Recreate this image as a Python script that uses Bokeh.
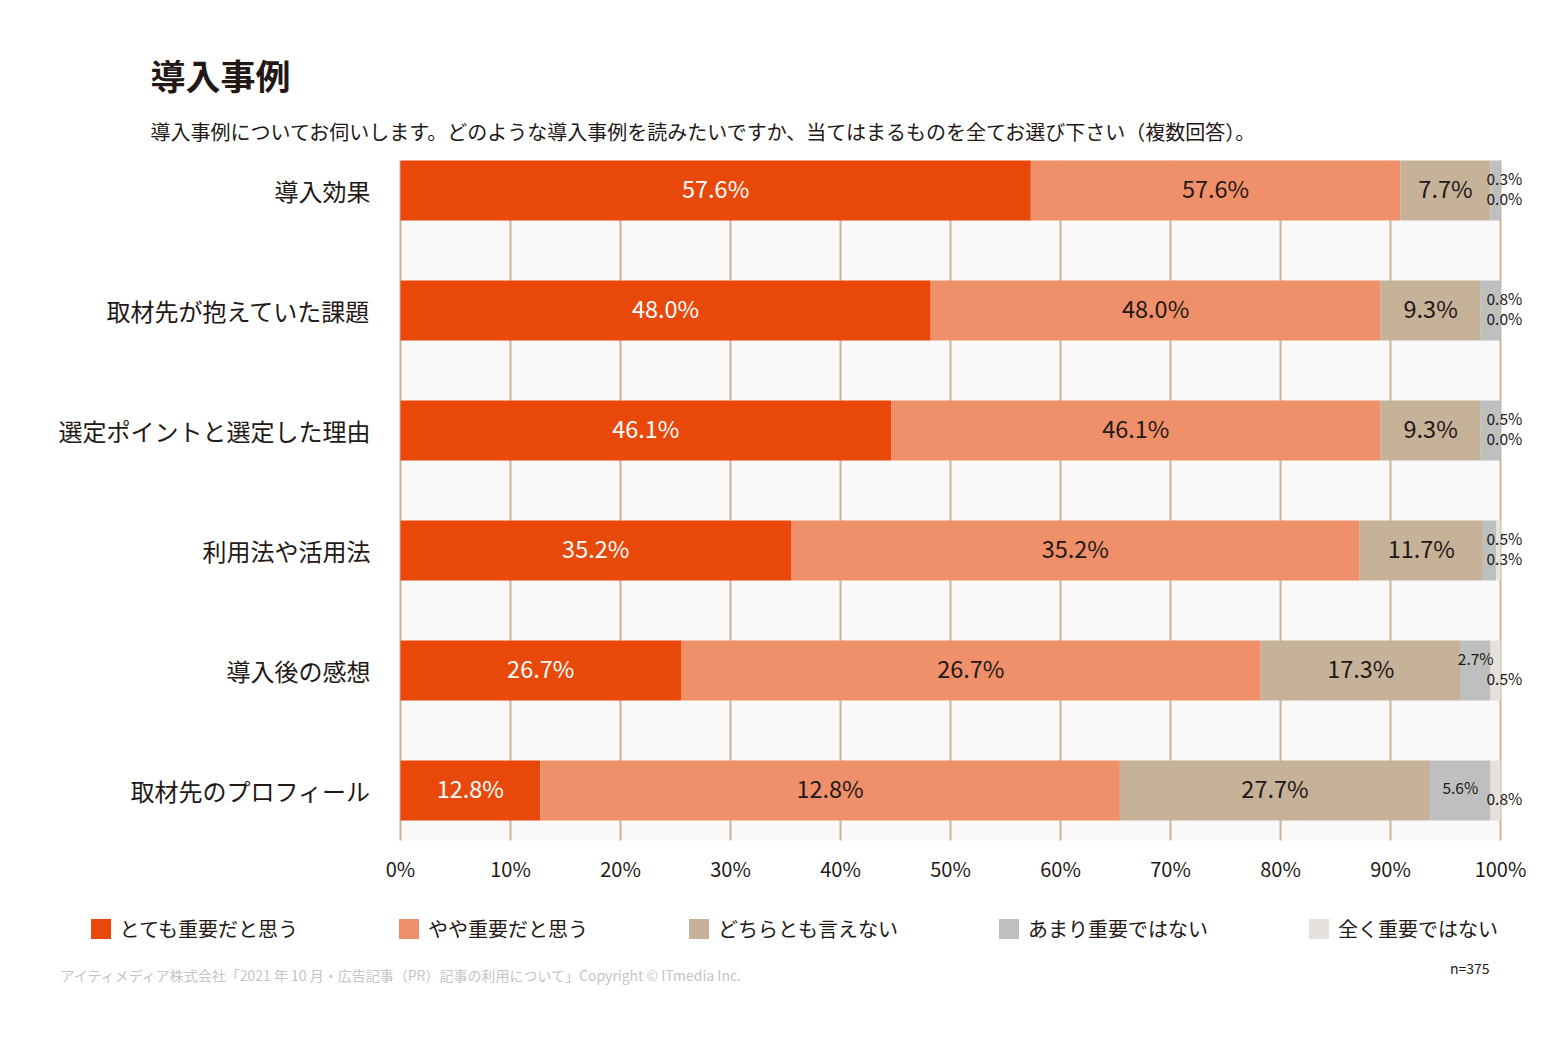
import numpy as np
from bokeh.plotting import figure
from bokeh.models import (Range1d, Label, LabelSet, ColumnDataSource,
                          Legend, LegendItem)
from bokeh.core.properties import value
from bokeh.embed import file_html
from bokeh.resources import INLINE

# ---------------- data ----------------
title_text = "導入事例"
subtitle_text = "導入事例についてお伺いします。どのような導入事例を読みたいですか、当てはまるものを全てお選び下さい（複数回答）。"
footer_text = "アイティメディア株式会社「2021 年 10 月・広告記事（PR）記事の利用について」Copyright © ITmedia Inc."
n_text = "n=375"

categories = ["導入効果", "取材先が抱えていた課題", "選定ポイントと選定した理由",
              "利用法や活用法", "導入後の感想", "取材先のプロフィール"]
series_names = ["とても重要だと思う", "やや重要だと思う", "どちらとも言えない",
                "あまり重要ではない", "全く重要ではない"]

# drawn segment widths (share of the bar, %)
very_important = [57.3, 48.2, 44.6, 35.5, 25.5, 12.7]
somewhat_important = [33.6, 40.9, 44.5, 51.7, 52.7, 52.7]
neutral = [8.2, 9.1, 9.1, 11.2, 18.2, 28.2]
not_very_important = [0.9, 1.8, 1.8, 1.2, 2.7, 5.5]
not_important = [0.0, 0.0, 0.0, 0.4, 0.9, 0.9]

# printed labels (%), as shown on the chart
very_label = [57.6, 48.0, 46.1, 35.2, 26.7, 12.8]
somewhat_label = [57.6, 48.0, 46.1, 35.2, 26.7, 12.8]
neutral_label = [7.7, 9.3, 9.3, 11.7, 17.3, 27.7]
not_very_label = [0.3, 0.8, 0.5, 0.5, 2.7, 5.6]
not_important_label = [0.0, 0.0, 0.0, 0.3, 0.5, 0.8]

x_ticks = [0, 10, 20, 30, 40, 50, 60, 70, 80, 90, 100]

# ---------------- style / layout ----------------
FONT = "Noto Sans CJK JP"
DARK = "#231815"
colors = ["#E8490B", "#F0906A", "#C6B199", "#BEC0C0", "#E5E1DC"]
label_colors = ["#FFFFFF", DARK, DARK]

W, H = 1550, 1030
PLOT_L, PLOT_T, PLOT_W, PLOT_H = 400, 160, 1100, 680   # plotting area in px
Y_TOP, Y_BOT = -0.25, 5 + 50 / 120                     # row units
PX_X = PLOT_W / 100.0
PX_Y = PLOT_H / (Y_BOT - Y_TOP)


def dx(px):  # canvas px -> data x
    return (px - PLOT_L) / PX_X


def dy(py):  # canvas px -> data y (rows grow downward)
    return (py - PLOT_T) / PX_Y + Y_TOP


p = figure(width=W, height=H, output_backend="svg", toolbar_location=None,
           x_range=Range1d(dx(0), dx(W)), y_range=Range1d(dy(H), dy(0)),
           x_axis_location=None, y_axis_location=None, min_border=0,
           title=None)
p.grid.visible = False
p.outline_line_color = None
p.background_fill_color = "white"
p.border_fill_color = "white"

rows = np.arange(len(categories))
data = np.array([very_important, somewhat_important, neutral,
                 not_very_important, not_important])
rights = np.cumsum(data, axis=0)
lefts = rights - data

# plot background and vertical grid
p.quad(left=[0], right=[100], top=[Y_TOP], bottom=[Y_BOT],
       fill_color="#F9F9F9", line_color=None)
p.segment(x0=x_ticks, x1=x_ticks, y0=[Y_TOP] * len(x_ticks),
          y1=[Y_BOT] * len(x_ticks), line_color="#C8B49B", line_width=2)

renderers = []
for i in range(len(series_names)):
    src = ColumnDataSource(dict(y=rows, left=lefts[i], right=rights[i]))
    r = p.hbar(y="y", left="left", right="right", height=0.5, source=src,
               fill_color=colors[i], line_color=None)
    renderers.append(r)

# x tick labels
p.add_layout(LabelSet(
    x="x", y="y", text="t",
    source=ColumnDataSource(dict(x=x_ticks, y=[dy(868)] * len(x_ticks),
                                 t=[f"{t}%" for t in x_ticks])),
    text_align="center", text_baseline="middle", text_font=value(FONT),
    text_font_size=value("20px"), text_color=DARK))

# category labels
p.add_layout(LabelSet(
    x="x", y="y", text="t",
    source=ColumnDataSource(dict(x=[dx(370)] * len(rows), y=rows,
                                 t=categories)),
    text_align="right", text_baseline="middle", text_font=value(FONT),
    text_font_size=value("24px"), text_color=DARK))

# main segment labels
main_labels = [very_label, somewhat_label, neutral_label]
for i in range(3):
    src = ColumnDataSource(dict(
        x=(lefts[i] + rights[i]) / 2, y=rows - 3 / PX_Y,
        t=[f"{v:.1f}%" for v in main_labels[i]]))
    p.add_layout(LabelSet(x="x", y="y", text="t", source=src,
                          text_align="center", text_baseline="middle",
                          text_font=value(FONT), text_font_size=value("23.5px"),
                          text_color=label_colors[i]))

# small labels for the last two segments
edge_x = dx(1486)
xs, ys, ts, al = [], [], [], []
for r in rows:
    w = not_very_important[r]
    c = (lefts[3][r] + rights[3][r]) / 2
    if w >= 4:
        xs.append(c); ys.append(r - 4 / PX_Y); al.append("center")
    elif w >= 2.5:
        xs.append(c); ys.append(r - 13 / PX_Y); al.append("center")
    else:
        xs.append(edge_x); ys.append(r - 13 / PX_Y); al.append("left")
    ts.append(f"{not_very_label[r]:.1f}%")
    xs.append(edge_x); ys.append(r + 7 / PX_Y); al.append("left")
    ts.append(f"{not_important_label[r]:.1f}%")
for a in ("left", "center"):
    idx = [k for k in range(len(xs)) if al[k] == a]
    src = ColumnDataSource(dict(x=[xs[k] for k in idx], y=[ys[k] for k in idx],
                                t=[ts[k] for k in idx]))
    p.add_layout(LabelSet(x="x", y="y", text="t", source=src,
                          text_align=a, text_baseline="middle",
                          text_font=value(FONT), text_font_size=value("15.5px"),
                          text_color=DARK))

# legend (bar legend glyphs are drawn at 80% of the glyph box)
legend = Legend(items=[LegendItem(label=n, renderers=[r])
                       for n, r in zip(series_names, renderers)],
                orientation="horizontal", location=(87.5, H - 942.5),
                glyph_width=25, glyph_height=25, label_standoff=7, spacing=98,
                padding=0, margin=0, border_line_color=None,
                background_fill_alpha=0, label_text_font=FONT,
                label_text_font_size="20px", label_text_color=DARK,
                label_height=25, label_text_baseline="middle")
p.add_layout(legend)

# texts around the chart
p.add_layout(Label(x=dx(150), y=dy(74), text=title_text, text_font=FONT,
                   text_font_size="35px", text_font_style="bold",
                   text_color=DARK, text_baseline="middle"))
p.add_layout(Label(x=dx(150), y=dy(131), text=subtitle_text, text_font=FONT,
                   text_font_size="20px", text_color=DARK,
                   text_baseline="middle"))
p.add_layout(Label(x=dx(60), y=dy(974), text=footer_text, text_font=FONT,
                   text_font_size="14px", text_color="#C4C4C4",
                   text_baseline="middle"))
p.add_layout(Label(x=dx(1489), y=dy(967), text=n_text, text_font=FONT,
                   text_font_size="14px", text_color=DARK,
                   text_align="right", text_baseline="middle"))

open("out.html", "w").write(file_html(p, INLINE))
